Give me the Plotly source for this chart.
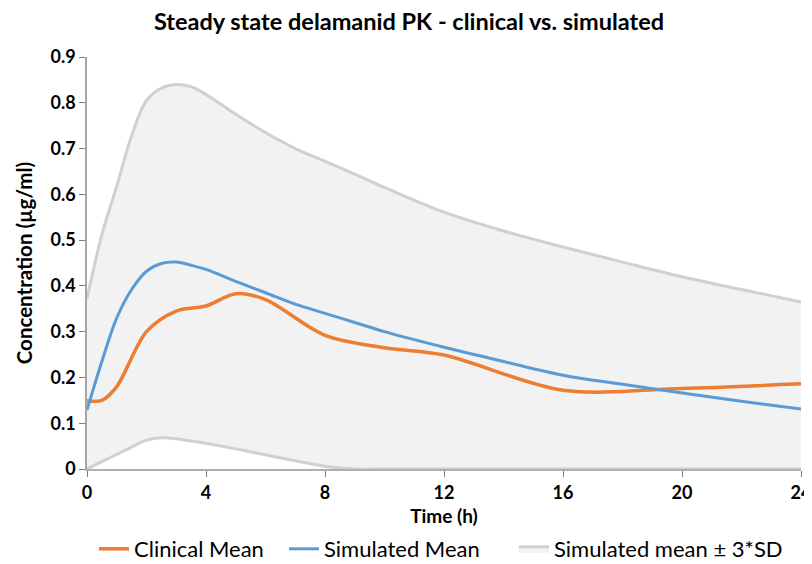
import plotly.graph_objects as go

# Simulated profile (time in h)
sim_time = [0, 0.5, 1, 1.5, 2, 2.5, 3, 3.5, 4, 5, 6, 7, 8, 9, 10, 12, 14, 16, 18, 20, 22, 24]
sim_mean = [0.129, 0.235, 0.330, 0.392, 0.432, 0.449, 0.452, 0.445, 0.436, 0.410, 0.385,
            0.360, 0.340, 0.320, 0.300, 0.266, 0.235, 0.205, 0.185, 0.166, 0.148, 0.131]
sim_upper = [0.372, 0.512, 0.618, 0.728, 0.805, 0.832, 0.840, 0.835, 0.818, 0.775, 0.735,
             0.700, 0.672, 0.644, 0.615, 0.561, 0.520, 0.485, 0.452, 0.420, 0.392, 0.365]
sim_lower = [0.0, 0.016, 0.032, 0.048, 0.063, 0.068, 0.066, 0.061, 0.056, 0.044, 0.031,
             0.018, 0.006, 0.0, 0.0, 0.0, 0.0, 0.0, 0.0, 0.0, 0.0, 0.0]

# Clinical mean
clin_time = [0, 0.5, 1, 2, 3, 4, 5, 6, 8, 10, 12, 16, 20, 24]
clin_mean = [0.149, 0.150, 0.180, 0.300, 0.345, 0.356, 0.383, 0.370, 0.292, 0.265, 0.249,
             0.172, 0.176, 0.186]

x_ticks = [0, 4, 8, 12, 16, 20, 24]
y_ticks = [0, 0.1, 0.2, 0.3, 0.4, 0.5, 0.6, 0.7, 0.8, 0.9]

FONT = "Lato"
W, H = 804, 556  # page body adds an 8px offset

fig = go.Figure()

fig.add_trace(go.Scatter(x=sim_time, y=sim_lower, mode="lines",
                         line=dict(color="#d0d0d0", width=3, shape="spline", smoothing=1),
                         showlegend=False, hoverinfo="skip"))
fig.add_trace(go.Scatter(x=sim_time, y=sim_upper, mode="lines", fill="tonexty",
                         fillcolor="#f2f2f2",
                         line=dict(color="#d0d0d0", width=3, shape="spline", smoothing=1),
                         name="Simulated mean ± 3*SD", legend="legend3"))
fig.add_trace(go.Scatter(x=clin_time, y=clin_mean, mode="lines",
                         line=dict(color="#ed7d31", width=3.5, shape="spline", smoothing=0.9),
                         name="Clinical Mean", legend="legend"))
fig.add_trace(go.Scatter(x=sim_time, y=sim_mean, mode="lines",
                         line=dict(color="#5b9bd5", width=3, shape="spline", smoothing=1),
                         name="Simulated Mean", legend="legend2"))

def leg(xpx):
    return dict(orientation="h", xref="container", x=xpx / W, xanchor="left",
                yref="container", y=(H - 541) / H, yanchor="middle",
                font=dict(size=22, family=FONT), itemwidth=30,
                bgcolor="rgba(0,0,0,0)")

fig.update_layout(
    width=W, height=H,
    margin=dict(l=79, r=11, t=49, b=95),
    paper_bgcolor="white", plot_bgcolor="white",
    font=dict(family=FONT, color="black"),
    title=dict(text="Steady state delamanid PK - clinical vs. simulated",
               xref="container", x=401 / W, xanchor="center",
               yref="container", y=(H - 14) / H, yanchor="middle",
               font=dict(size=23.5, family=FONT, weight="bold", color="black")),
    xaxis=dict(range=[0, 24], tickvals=x_ticks, showgrid=False, zeroline=False,
               showline=True, linecolor="#b0b0b0", linewidth=2, automargin=False,
               ticks="outside", ticklen=6, tickcolor="#7f7f7f",
               tickfont=dict(size=18, family=FONT, weight="bold"),
               title=dict(text="Time (h)", standoff=8,
                          font=dict(size=19, family=FONT, weight="bold"))),
    yaxis=dict(range=[0, 0.9], tickvals=y_ticks, showgrid=False, zeroline=False,
               showline=True, linecolor="#a6a6a6", linewidth=1.5, automargin=False,
               ticks="outside", ticklen=6, tickcolor="#7f7f7f",
               tickfont=dict(size=18, family=FONT, weight="bold"),
               title=dict(text="Concentration (µg/ml)", standoff=12,
                          font=dict(size=20.5, family=FONT, weight="bold"))),
    legend=leg(86),
    legend2=leg(276),
    legend3=leg(506),
)

fig.write_html("out.html")
